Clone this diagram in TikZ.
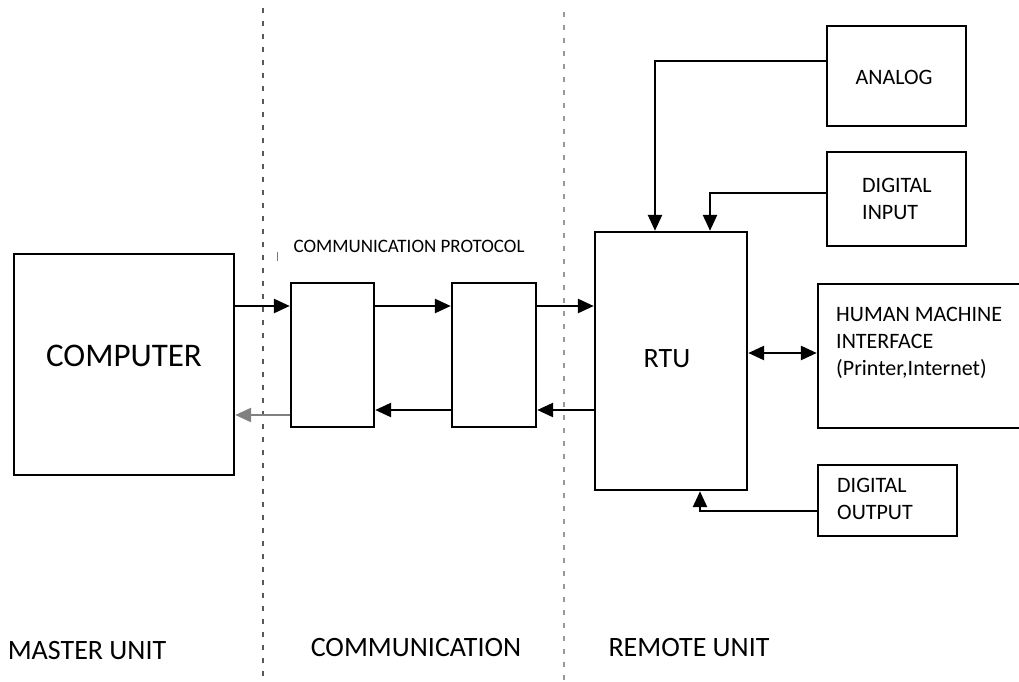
\documentclass[tikz,border=0pt]{standalone}
\usepackage{fontspec}
\setmainfont{Carlito}
\usetikzlibrary{arrows.meta}

\begin{document}
\begin{tikzpicture}[x=1pt,y=-1pt,
  box/.style={draw,line width=2.4pt,inner sep=0pt},
  arr/.style={line width=2.6pt,-{Triangle[length=16pt,width=14pt]}},
  lbl/.style={inner sep=0pt,align=left,font=\fontsize{22}{27}\selectfont},
  unit/.style={inner sep=0pt,font=\fontsize{28}{30}\selectfont},
  divider/.style={line width=1.8pt,dash pattern=on 5pt off 8pt}]
\useasboundingbox(0,0)rectangle(1019,682);
\draw[divider,black!65](263,8)--(263,682);\draw[divider,black!40](564,12)--(564,682);
% boxes
\node[box,minimum width=220,minimum height=221](comp)at(124,364.5){};
\node[box,minimum width=83,minimum height=144](cpa)at(332.5,355){};
\node[box,minimum width=84,minimum height=144](cpb)at(494,355){};
\node[box,minimum width=152,minimum height=258](rtu)at(671,361){};
\node[box,minimum width=139,minimum height=100](analog)at(896.5,76){};
\node[box,minimum width=139,minimum height=94](din)at(896.5,199){};
\node[box,minimum width=212,minimum height=144](hmi)at(924,356){};
\node[box,minimum width=139,minimum height=71](dout)at(887.5,500.5){};
% texts
\node[inner sep=0pt,font=\fontsize{33}{35}\selectfont](comptxt)at(124,356){COMPUTER};
\node[inner sep=0pt,font=\fontsize{28}{30}\selectfont](rtutxt)at(667,359){RTU};
\node[inner sep=0pt,font=\fontsize{19}{21}\selectfont](prototxt)at(409,246){COMMUNICATION PROTOCOL};
\node[lbl](analogtxt)at(894,77){ANALOG};
\node[lbl,anchor=west](dintxt)at(862,198.5){DIGITAL\\INPUT};
\node[lbl,anchor=west](hmitxt)at(836,343){HUMAN MACHINE\\INTERFACE\\(Printer,Internet)};
\node[lbl,anchor=west](douttxt)at(837,499){DIGITAL\\OUTPUT};
\node[unit](master)at(87,650.5){MASTER UNIT};
\node[unit](comm)at(416,648){COMMUNICATION};
\node[unit](remote)at(689,648){REMOTE UNIT};
\draw[orange!80!black,line width=1pt](277,252)--(277,261);
% connectors
\draw[arr](comp.east|-0,306)--(cpa.west|-0,306);\draw[arr](cpa.east|-0,306)--(cpb.west|-0,306);
\draw[arr](cpb.east|-0,306)--(rtu.west|-0,306);
\draw[arr](rtu.west|-0,410)--(cpb.east|-0,410);\draw[arr](cpb.west|-0,410)--(cpa.east|-0,410);
\draw[arr,gray](cpa.west|-0,415)--(comp.east|-0,415);
\draw[arr](analog.west|-0,61)-|(rtu.north-|655,0);
\draw[arr](din.west|-0,193)-|(rtu.north-|710,0);
\draw[arr,{Triangle[length=16pt,width=14pt]}-{Triangle[length=16pt,width=14pt]}](rtu.east|-0,353)--(hmi.west|-0,353);
\draw[arr](dout.west|-0,511)-|(rtu.south-|700,0);
\end{tikzpicture}
\end{document}
